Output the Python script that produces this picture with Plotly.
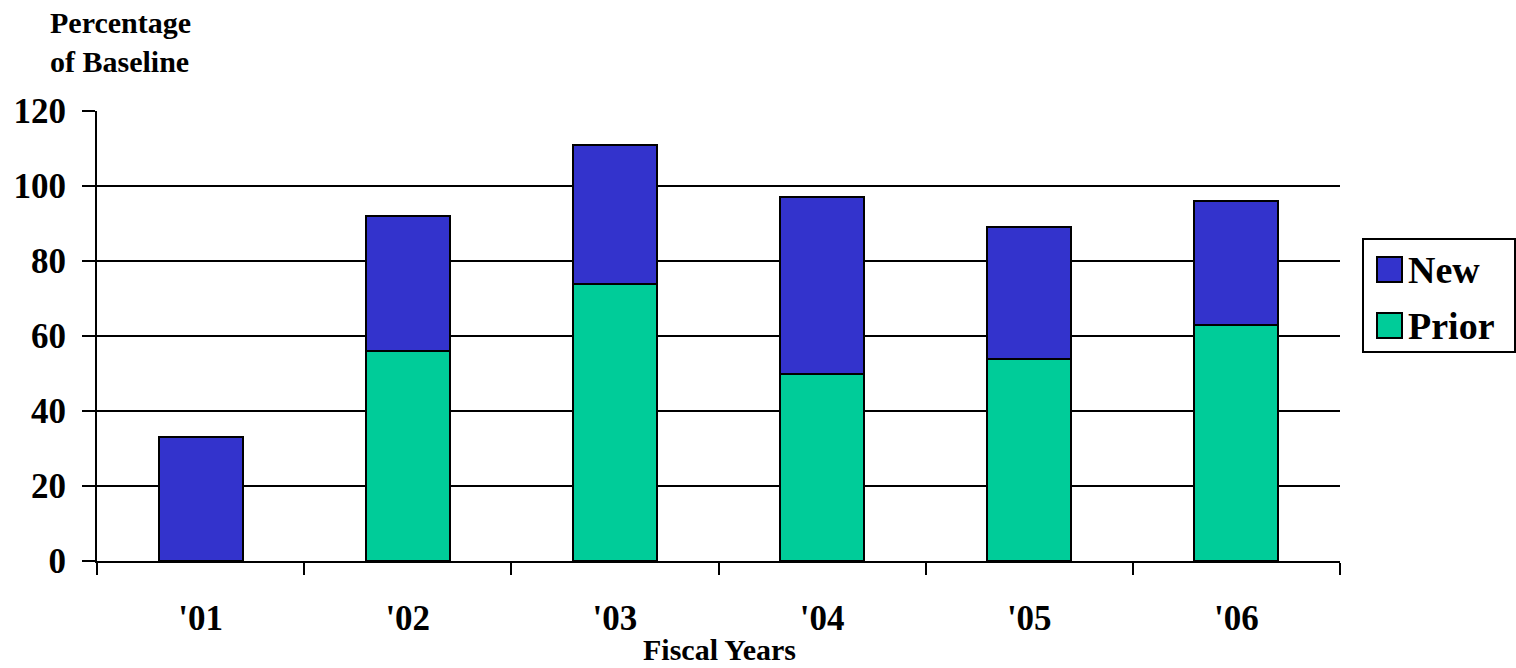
import plotly.graph_objects as go

years = ["'01", "'02", "'03", "'04", "'05", "'06"]
prior = [0, 56, 74, 50, 54, 63]
new = [33, 36, 37, 47, 35, 33]
y_ticks = [0, 20, 40, 60, 80, 100, 120]

FONT = "Liberation Serif, Times New Roman, serif"
NEW_COLOR = "#3333CC"
PRIOR_COLOR = "#00CC99"

# plot area in pixels, used to place the titles and the legend box
L, R, T, B = 97, 1340, 111, 561
W, H = R - L, B - T


def px(x):
    return (x - L) / W


def py(y):
    return (B - y) / H


fig = go.Figure()
fig.add_trace(go.Bar(
    x=years, y=prior, name="Prior",
    marker=dict(color=PRIOR_COLOR, line=dict(color="black", width=2)),
))
fig.add_trace(go.Bar(
    x=years, y=new, name="New",
    marker=dict(color=NEW_COLOR, line=dict(color="black", width=2)),
))

fig.update_layout(
    barmode="stack",
    bargap=0.595,
    width=1516, height=668,
    margin=dict(l=L, r=1516 - R, t=T, b=668 - B),
    plot_bgcolor="white", paper_bgcolor="white",
    font=dict(family=FONT, color="black"),
    showlegend=False,
    xaxis=dict(
        showline=True, linecolor="black", linewidth=2,
        ticks="outside", ticklen=12, tickwidth=2, tickcolor="black",
        tickson="boundaries", ticklabelstandoff=25,
        tickfont=dict(family=FONT, size=35, color="black", weight="bold"),
        showgrid=False,
    ),
    yaxis=dict(
        range=[0, 120], tickvals=y_ticks,
        showline=True, linecolor="black", linewidth=2,
        ticks="outside", ticklen=13, tickwidth=2, tickcolor="black",
        ticklabelstandoff=9,
        showgrid=True, gridcolor="black", gridwidth=2,
        zeroline=False,
        tickfont=dict(family=FONT, size=35, color="black", weight="bold"),
    ),
)

# axis titles
fig.add_annotation(
    text="<b>Percentage<br>of Baseline</b>",
    xref="paper", yref="paper", x=px(48), y=py(42),
    xanchor="left", yanchor="middle", showarrow=False, align="left",
    font=dict(family=FONT, size=30, color="black"),
)
fig.add_annotation(
    text="<b>Fiscal Years</b>",
    xref="paper", yref="paper", x=px(719), y=py(649),
    xanchor="center", yanchor="middle", showarrow=False,
    font=dict(family=FONT, size=30, color="black"),
)

# legend: framed box with a swatch and label per series
fig.add_shape(type="rect", xref="paper", yref="paper",
              x0=px(1363), x1=px(1515), y0=py(352), y1=py(239),
              line=dict(color="black", width=2), fillcolor="white")
for label, color, top in [("New", NEW_COLOR, 257), ("Prior", PRIOR_COLOR, 313)]:
    fig.add_shape(type="rect", xref="paper", yref="paper",
                  x0=px(1377), x1=px(1402), y0=py(top + 25), y1=py(top),
                  line=dict(color="black", width=2), fillcolor=color)
    fig.add_annotation(
        text=f"<b>{label}</b>", xref="paper", yref="paper",
        x=px(1406), y=py(top + 13), xanchor="left", yanchor="middle",
        showarrow=False, font=dict(family=FONT, size=38, color="black"),
    )

fig.write_html("out.html")
